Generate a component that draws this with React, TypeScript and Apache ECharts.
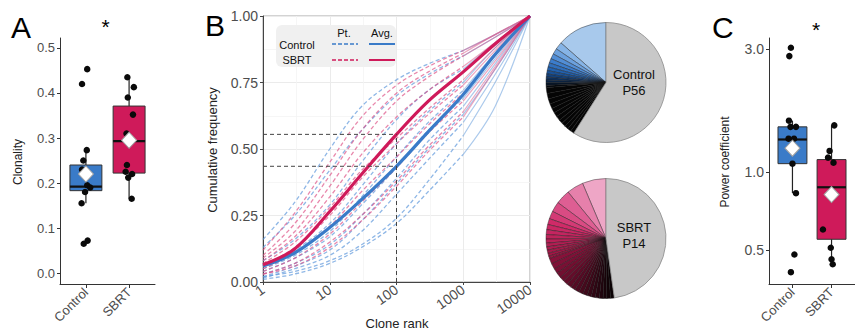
import React, { useEffect, useRef } from 'react';
import * as echarts from 'echarts';

const FONT = "'Liberation Sans', Arial, Helvetica, sans-serif";
const groups = ['Control', 'SBRT'];
const BLUE = '#3a7bc8';
const RED = '#cf1a5a';

// ---------- Panel A : clonality ----------
const clonTicks = [0, 0.1, 0.2, 0.3, 0.4, 0.5];
const clonControl = [0.453, 0.42, 0.273, 0.25, 0.23, 0.195, 0.19, 0.18, 0.155, 0.072, 0.065];
const clonControlJitter = [0.03, -0.09, 0.02, -0.06, -0.09, 0.03, 0.1, -0.02, -0.1, 0.04, -0.05];
const clonSbrt = [0.435, 0.413, 0.39, 0.352, 0.31, 0.24, 0.225, 0.22, 0.212, 0.165];
const clonSbrtJitter = [-0.04, 0.11, -0.03, 0.09, -0.06, -0.05, -0.08, 0.07, -0.02, 0.06];
// [low whisker, Q1, median, Q3, high whisker]
const clonBox = [
  [0.155, 0.183, 0.192, 0.24, 0.273],
  [0.165, 0.222, 0.293, 0.371, 0.435],
];
const clonMean = [0.22, 0.295];

// ---------- Panel B : cumulative frequency ----------
const rankTicks = [1, 10, 100, 1000, 10000];
const freqTicks = [0, 0.25, 0.5, 0.75, 1];
const ranks = [1, 3, 10, 30, 100, 300, 1000, 3000, 10000];
const controlPatients = [
  [0.16, 0.3, 0.5, 0.66, 0.76, 0.82, 0.87, 0.93, 1.0],
  [0.13, 0.25, 0.42, 0.57, 0.7, 0.78, 0.85, 0.92, 1.0],
  [0.08, 0.16, 0.29, 0.45, 0.61, 0.72, 0.8, 0.9, 1.0],
  [0.06, 0.12, 0.22, 0.36, 0.52, 0.64, 0.75, 0.88, 1.0],
  [0.05, 0.1, 0.19, 0.32, 0.47, 0.6, 0.72, 0.86, 1.0],
  [0.04, 0.09, 0.17, 0.29, 0.43, 0.57, 0.69, 0.84, 1.0],
  [0.03, 0.07, 0.14, 0.25, 0.39, 0.53, 0.66, 0.82, 1.0],
  [0.02, 0.06, 0.12, 0.23, 0.37, 0.5, 0.63, 0.8, 1.0],
  [0.02, 0.04, 0.08, 0.14, 0.24, 0.38, 0.55, 0.75, 1.0],
  [0.01, 0.03, 0.07, 0.13, 0.22, 0.34, 0.48, 0.66, 1.0],
  [0.015, 0.05, 0.1, 0.19, 0.33, 0.46, 0.6, 0.78, 1.0],
];
const sbrtPatients = [
  [0.12, 0.26, 0.45, 0.62, 0.74, 0.81, 0.87, 0.93, 1.0],
  [0.1, 0.22, 0.4, 0.57, 0.71, 0.79, 0.86, 0.93, 1.0],
  [0.09, 0.19, 0.36, 0.53, 0.68, 0.77, 0.85, 0.92, 1.0],
  [0.08, 0.17, 0.32, 0.48, 0.62, 0.72, 0.81, 0.9, 1.0],
  [0.07, 0.15, 0.28, 0.42, 0.54, 0.65, 0.76, 0.88, 1.0],
  [0.06, 0.13, 0.25, 0.39, 0.52, 0.63, 0.74, 0.87, 1.0],
  [0.05, 0.11, 0.21, 0.34, 0.47, 0.59, 0.71, 0.85, 1.0],
  [0.04, 0.09, 0.18, 0.3, 0.43, 0.56, 0.68, 0.83, 1.0],
  [0.03, 0.07, 0.15, 0.25, 0.38, 0.51, 0.64, 0.81, 1.0],
  [0.03, 0.06, 0.13, 0.23, 0.36, 0.49, 0.62, 0.8, 1.0],
];
const controlAvg = [0.06, 0.11, 0.205, 0.31, 0.435, 0.565, 0.705, 0.855, 1.0];
const sbrtAvg = [0.065, 0.125, 0.265, 0.405, 0.555, 0.68, 0.79, 0.895, 1.0];
const refRank = 100;
const refFreq = [0.555, 0.435];

// ---------- Pies : clone share (%) ----------
const controlPieClones = [13.6, 2.0, 1.6, 1.4, 1.2, 1.1, 1.0, 0.9, 0.85, 0.8, 0.75, 0.7, 0.6,
  1.6, 1.5, 1.4, 1.3, 1.3, 1.2, 1.2, 1.1, 1.1, 1.0, 1.0, 1.0];
const controlPieRest = 59.3;
const sbrtPieClones = [6.4, 4.5, 3.9, 2.75, 2.1, 1.6, 1.4, 1.3, 1.2, 1.1, 1.0, 0.9, 0.85, 0.8, 0.65,
  1.5, 1.5, 1.4, 1.4, 1.3, 1.3, 1.3, 1.2, 1.2, 1.2, 1.2, 1.1, 1.1, 1.1, 1.0, 1.0, 1.0, 1.0];
const sbrtPieRest = 47.8;
const pieLabels = ['Control\nP56', 'SBRT\nP14'];

// ---------- Panel C : power coefficient ----------
const powTicks = [0.5, 1.0, 3.0];
const powControl = [3.04, 2.82, 1.585, 1.5, 1.5, 1.35, 1.35, 1.08, 0.83, 0.48, 0.41];
const powControlJitter = [-0.04, -0.08, -0.09, 0.09, -0.05, -0.1, 0.04, 0.0, 0.09, 0.05, -0.04];
const powSbrt = [1.52, 1.21, 1.14, 1.09, 0.82, 0.6, 0.51, 0.46, 0.44];
const powSbrtJitter = [0.07, -0.05, -0.09, 0.05, 0.0, -0.22, -0.02, 0.0, 0.03];
const powBox = [
  [0.83, 1.08, 1.34, 1.5, 1.585],
  [0.44, 0.55, 0.875, 1.12, 1.52],
];
const powMean = [1.24, 0.82];

const lg = (v: number) => Math.log10(v);

function boxSeries(idx: number, boxes: number[][], tf: (v: number) => number) {
  const fills = [BLUE, RED];
  return {
    type: 'custom',
    xAxisIndex: idx,
    yAxisIndex: idx,
    silent: true,
    z: 2,
    encode: { x: 0, y: [1, 2, 3, 4, 5] },
    data: boxes.map((b, i) => [i + 1, ...b.map(tf)]),
    renderItem: (params: any, api: any) => {
      const x = api.value(0);
      const lo = api.coord([x, api.value(1)]);
      const q1 = api.coord([x, api.value(2)]);
      const md = api.coord([x, api.value(3)]);
      const q3 = api.coord([x, api.value(4)]);
      const hi = api.coord([x, api.value(5)]);
      const left = api.coord([x - 0.37, api.value(3)])[0];
      const right = api.coord([x + 0.37, api.value(3)])[0];
      return {
        type: 'group',
        children: [
          { type: 'line', shape: { x1: lo[0], y1: lo[1], x2: hi[0], y2: hi[1] }, style: { stroke: '#222', lineWidth: 1.2 } },
          { type: 'rect', shape: { x: left, y: q3[1], width: right - left, height: q1[1] - q3[1] }, style: { fill: fills[params.dataIndex], stroke: '#333', lineWidth: 1 } },
          { type: 'line', shape: { x1: left, y1: md[1], x2: right, y2: md[1] }, style: { stroke: '#111', lineWidth: 2.2 } },
        ],
      };
    },
  };
}

function pointSeries(idx: number, vals: number[], jit: number[], cat: number, tf: (v: number) => number) {
  return {
    type: 'scatter',
    xAxisIndex: idx,
    yAxisIndex: idx,
    silent: true,
    z: 3,
    symbolSize: 6.5,
    itemStyle: { color: '#0a0a0a', opacity: 1 },
    data: vals.map((v, i) => [cat + jit[i], tf(v)]),
  };
}

function meanSeries(idx: number, means: number[], tf: (v: number) => number) {
  return {
    type: 'scatter',
    xAxisIndex: idx,
    yAxisIndex: idx,
    silent: true,
    z: 4,
    symbol: 'diamond',
    symbolSize: [15, 16],
    itemStyle: { color: '#ffffff', borderColor: '#a0a0a0', borderWidth: 1, opacity: 1 },
    data: means.map((m, i) => [i + 1, tf(m)]),
  };
}

const catXAxis = (idx: number) => ({
  type: 'value',
  gridIndex: idx,
  min: 0.4,
  max: 2.6,
  axisLine: { show: true, onZero: false, lineStyle: { color: '#333', width: 1 } },
  axisTick: { show: true, customValues: [1, 2], length: 4, lineStyle: { color: '#333' } },
  axisLabel: {
    customValues: [1, 2],
    formatter: (v: number) => groups[Math.round(v) - 1],
    rotate: 45,
    fontSize: 13,
    color: '#4d4d4d',
    fontFamily: FONT,
    margin: 6,
  },
  splitLine: { show: false },
});

function pieData(clones: number[], rest: number, colorFor: (i: number) => string) {
  const d: any[] = clones.map((v, i) => ({
    value: v,
    itemStyle: { color: colorFor(i), borderColor: 'rgba(25,25,25,0.85)', borderWidth: 0.5 },
  }));
  d.push({ value: rest, itemStyle: { color: '#c8c8c8', borderColor: '#8a8a8a', borderWidth: 0.8 } });
  return d;
}

const controlColor = (i: number) => {
  if (i === 0) return '#a8c9ec';
  if (i <= 12) return echarts.color.lerp((i - 1) / 11, ['#86b4e6', '#3f80d0', '#1d5aa5', '#0c2d57', '#03070d']) as string;
  return '#050505';
};
const sbrtColor = (i: number) => {
  const first = ['#eea6c6', '#e680ab', '#de5e93', '#d94b83', '#d33a75'];
  if (i < 5) return first[i];
  if (i < 15) return echarts.color.lerp((i - 5) / 9, ['#d02a68', '#9a1542']) as string;
  return echarts.color.lerp((i - 15) / 17, ['#86123a', '#4a0a1f', '#0a0204']) as string;
};

export default function App() {
  const ref = useRef<HTMLDivElement>(null);
  useEffect(() => {
    if (!ref.current) return;
    const chart = echarts.init(ref.current, undefined, { renderer: 'svg' });

    const series: any[] = [];
    // Panel A
    series.push(boxSeries(0, clonBox, (v) => v));
    series.push(pointSeries(0, clonControl, clonControlJitter, 1, (v) => v));
    series.push(pointSeries(0, clonSbrt, clonSbrtJitter, 2, (v) => v));
    series.push(meanSeries(0, clonMean, (v) => v));
    // Panel C
    series.push(boxSeries(2, powBox, lg));
    series.push(pointSeries(2, powControl, powControlJitter, 1, lg));
    series.push(pointSeries(2, powSbrt, powSbrtJitter, 2, lg));
    series.push(meanSeries(2, powMean, lg));

    // Panel B patient lines
    const addPatient = (vals: number[], color: string) => {
      const pts = ranks.map((r, j) => [lg(r), vals[j]]);
      const common = {
        type: 'line', xAxisIndex: 1, yAxisIndex: 1, silent: true, showSymbol: false,
        smooth: 0.35, z: 2,
      };
      series.push({ ...common, data: pts.slice(0, 7), lineStyle: { color, width: 1.3, type: [4, 2.5], opacity: 0.68 } });
      series.push({ ...common, data: pts.slice(6), lineStyle: { color, width: 1.2, opacity: 0.5 } });
    };
    controlPatients.forEach((p) => addPatient(p, '#5a95da'));
    sbrtPatients.forEach((p) => addPatient(p, '#dd4f84'));
    const avgLine = (vals: number[], color: string) => ({
      type: 'line', xAxisIndex: 1, yAxisIndex: 1, silent: true, showSymbol: false,
      smooth: 0.35, z: 3,
      data: ranks.map((r, j) => [lg(r), vals[j]]),
      lineStyle: { color, width: 3.2 },
    });
    series.push(avgLine(controlAvg, BLUE));
    series.push(avgLine(sbrtAvg, RED));
    const refStyle = { color: '#444', width: 1, type: [4, 3] };
    refFreq.forEach((f) => {
      series.push({
        type: 'line', xAxisIndex: 1, yAxisIndex: 1, silent: true, showSymbol: false, z: 4,
        data: [[0, f], [lg(refRank), f]], lineStyle: refStyle,
      });
    });
    series.push({
      type: 'line', xAxisIndex: 1, yAxisIndex: 1, silent: true, showSymbol: false, z: 4,
      data: [[lg(refRank), 0], [lg(refRank), Math.max(...refFreq)]], lineStyle: refStyle,
    });

    // Pies
    const pieCommon = {
      type: 'pie', radius: 60, startAngle: 90, clockwise: false, silent: true,
      label: { show: false }, labelLine: { show: false }, minAngle: 0,
    };
    series.push({ ...pieCommon, center: [606, 82.5], data: pieData(controlPieClones, controlPieRest, controlColor) });
    series.push({ ...pieCommon, center: [606, 238.5], data: pieData(sbrtPieClones, sbrtPieRest, sbrtColor) });

    const axisText = { color: '#4d4d4d', fontFamily: FONT };

    chart.setOption({
      animation: false,
      textStyle: { fontFamily: FONT },
      grid: [
        { left: 60, top: 38, width: 95, height: 246, show: false },
        { left: 263, top: 16, width: 267, height: 266, show: true, borderColor: '#a6a6a6', borderWidth: 1, backgroundColor: '#fff' },
        { left: 769, top: 38, width: 96.8, height: 246, show: false },
      ],
      xAxis: [
        catXAxis(0),
        {
          type: 'value', gridIndex: 1, min: 0, max: 4, interval: 1,
          axisLine: { show: true, onZero: false, lineStyle: { color: '#444' } },
          axisTick: { show: true, length: 3, lineStyle: { color: '#444' } },
          minorTick: { show: false, splitNumber: 2 },
          axisLabel: { ...axisText, fontSize: 14, rotate: 35, margin: 6, formatter: (v: number) => String(Math.round(Math.pow(10, v))), customValues: rankTicks.map(lg) },
          splitLine: { show: true, lineStyle: { color: '#ebebeb', width: 1 } },
          minorSplitLine: { show: true, lineStyle: { color: '#f4f4f4', width: 0.8 } },
        },
        catXAxis(2),
      ],
      yAxis: [
        {
          type: 'value', gridIndex: 0, min: -0.0244, max: 0.5222,
          axisLine: { show: true, onZero: false, lineStyle: { color: '#333' } },
          axisTick: { show: true, customValues: clonTicks, length: 3, lineStyle: { color: '#333' } },
          axisLabel: { ...axisText, fontSize: 13, margin: 5, customValues: clonTicks, formatter: (v: number) => v.toFixed(1) },
          splitLine: { show: false },
        },
        {
          type: 'value', gridIndex: 1, min: 0, max: 1, interval: 0.25,
          axisLine: { show: true, onZero: false, lineStyle: { color: '#444' } },
          axisTick: { show: true, length: 3, lineStyle: { color: '#444' } },
          minorTick: { show: false, splitNumber: 2 },
          axisLabel: { ...axisText, fontSize: 14, margin: 5, customValues: freqTicks, formatter: (v: number) => v.toFixed(2) },
          splitLine: { show: true, lineStyle: { color: '#ebebeb', width: 1 } },
          minorSplitLine: { show: true, lineStyle: { color: '#f4f4f4', width: 0.8 } },
        },
        {
          type: 'value', gridIndex: 2, min: -0.433, max: 0.5205,
          axisLine: { show: true, onZero: false, lineStyle: { color: '#333' } },
          axisTick: { show: true, customValues: powTicks.map(lg), length: 3, lineStyle: { color: '#333' } },
          axisLabel: { ...axisText, fontSize: 14, margin: 5, customValues: powTicks.map(lg), formatter: (v: number) => Math.pow(10, v).toFixed(1) },
          splitLine: { show: false },
        },
      ],
      graphic: [
        // panel letters
        { type: 'text', x: 11, y: 27, style: { text: 'A', fontSize: 30, fontFamily: FONT, fill: '#000', textVerticalAlign: 'middle' } },
        { type: 'text', x: 205, y: 25, style: { text: 'B', fontSize: 30, fontFamily: FONT, fill: '#000', textVerticalAlign: 'middle' } },
        { type: 'text', x: 712, y: 27, style: { text: 'C', fontSize: 30, fontFamily: FONT, fill: '#000', textVerticalAlign: 'middle' } },
        // significance stars
        { type: 'text', x: 105.5, y: 26, style: { text: '*', fontSize: 21, fontFamily: FONT, fill: '#000', textAlign: 'center', textVerticalAlign: 'middle' } },
        { type: 'text', x: 816, y: 29, style: { text: '*', fontSize: 21, fontFamily: FONT, fill: '#000', textAlign: 'center', textVerticalAlign: 'middle' } },
        // axis titles
        { type: 'text', x: 18, y: 162, rotation: Math.PI / 2, style: { text: 'Clonality', fontSize: 12, fontFamily: FONT, fill: '#222', textAlign: 'center', textVerticalAlign: 'middle' } },
        { type: 'text', x: 212, y: 150, rotation: Math.PI / 2, style: { text: 'Cumulative frequency', fontSize: 13, fontFamily: FONT, fill: '#222', textAlign: 'center', textVerticalAlign: 'middle' } },
        { type: 'text', x: 397, y: 323, style: { text: 'Clone rank', fontSize: 13, fontFamily: FONT, fill: '#222', textAlign: 'center', textVerticalAlign: 'middle' } },
        { type: 'text', x: 725, y: 162, rotation: Math.PI / 2, style: { text: 'Power coefficient', fontSize: 12, fontFamily: FONT, fill: '#222', textAlign: 'center', textVerticalAlign: 'middle' } },
        // legend in panel B
        { type: 'rect', z: 50, shape: { x: 276, y: 25, width: 120, height: 42, r: 6 }, style: { fill: '#f0f0f0', stroke: 'none' } },
        { type: 'text', z: 51, x: 344, y: 33, style: { text: 'Pt.', fontSize: 11, fontFamily: FONT, fill: '#111', textAlign: 'center', textVerticalAlign: 'middle' } },
        { type: 'text', z: 51, x: 382, y: 33, style: { text: 'Avg.', fontSize: 11, fontFamily: FONT, fill: '#111', textAlign: 'center', textVerticalAlign: 'middle' } },
        { type: 'text', z: 51, x: 297, y: 45, style: { text: 'Control', fontSize: 11, fontFamily: FONT, fill: '#111', textAlign: 'center', textVerticalAlign: 'middle' } },
        { type: 'text', z: 51, x: 297, y: 60, style: { text: 'SBRT', fontSize: 11, fontFamily: FONT, fill: '#111', textAlign: 'center', textVerticalAlign: 'middle' } },
        { type: 'line', z: 51, shape: { x1: 332, y1: 44, x2: 358, y2: 44 }, style: { stroke: BLUE, lineWidth: 1.6, lineDash: [4, 2] } },
        { type: 'line', z: 51, shape: { x1: 369, y1: 44, x2: 395, y2: 44 }, style: { stroke: BLUE, lineWidth: 2 } },
        { type: 'line', z: 51, shape: { x1: 332, y1: 60, x2: 358, y2: 60 }, style: { stroke: RED, lineWidth: 1.6, lineDash: [4, 2] } },
        { type: 'line', z: 51, shape: { x1: 369, y1: 60, x2: 395, y2: 60 }, style: { stroke: RED, lineWidth: 2 } },
        // pie labels
        { type: 'text', z: 60, x: 634, y: 82, style: { text: pieLabels[0], fontSize: 13, lineHeight: 16, fontFamily: FONT, fill: '#111', textAlign: 'center', textVerticalAlign: 'middle' } },
        { type: 'text', z: 60, x: 634, y: 235, style: { text: pieLabels[1], fontSize: 13, lineHeight: 16, fontFamily: FONT, fill: '#111', textAlign: 'center', textVerticalAlign: 'middle' } },
      ],
      series,
    });
    return () => chart.dispose();
  }, []);
  return <div ref={ref} style={{ position: 'absolute', left: 0, top: 0, width: 855, height: 331, background: '#fff' }} />;
}
